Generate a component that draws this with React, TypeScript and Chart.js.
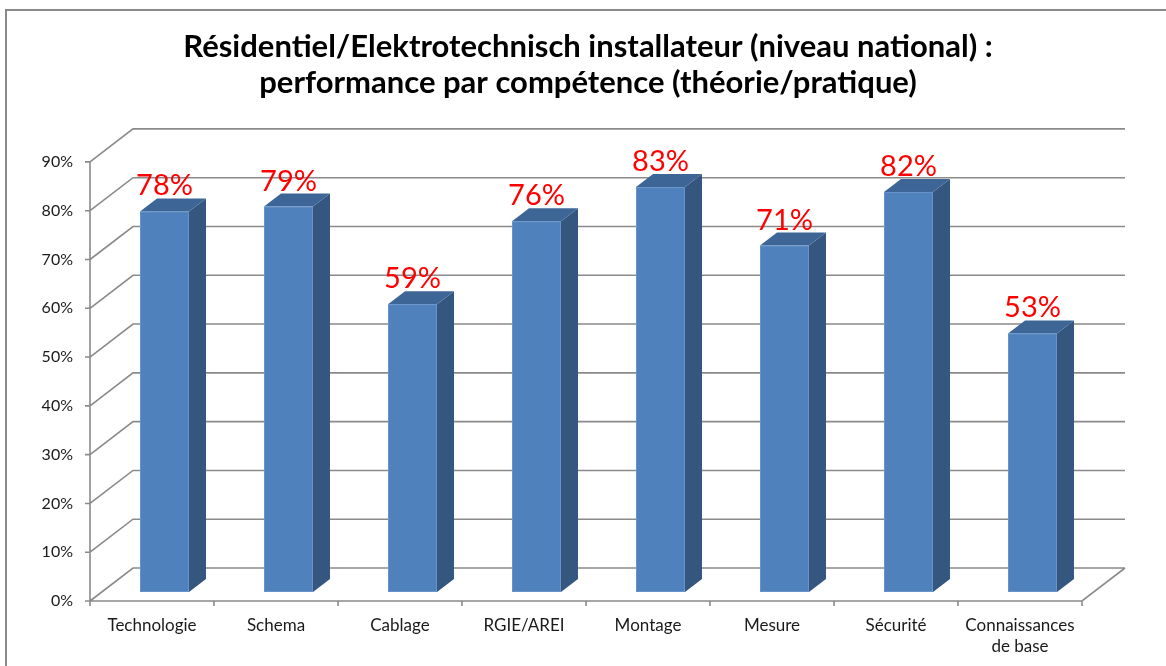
import React, { useEffect, useRef } from 'react';
import { Chart, registerables } from 'chart.js';

Chart.register(...registerables);

const categories: (string | string[])[] = [
  'Technologie',
  'Schema',
  'Cablage',
  'RGIE/AREI',
  'Montage',
  'Mesure',
  'Sécurité',
  ['Connaissances', 'de base'],
];
const values = [78, 79, 59, 76, 83, 71, 82, 53];
const yMax = 90;
const yStep = 10;
const titleLines = [
  'Résidentiel/Elektrotechnisch installateur (niveau national) :',
  'performance par compétence (théorie/pratique)',
];

const FONT = "Lato, 'Open Sans', sans-serif";
const GRID = '#8a8a8a';
const FRONT = '#4F81BD';
const SIDE = '#34567F';
const TOP = '#3D6697';
// 3D offsets (style)
const WALL_DX = 43, WALL_DY = -33;
const BAR_FX = 12.5, BAR_FY = -9;
const DEPTH_DX = 17, DEPTH_DY = -13;

const threeD = {
  id: 'threeD',
  beforeDraw(chart: any) {
    const ctx = chart.ctx;
    ctx.save();
    ctx.fillStyle = '#ffffff';
    ctx.fillRect(0, 0, chart.width, chart.height);
    ctx.strokeStyle = '#8a8a8a';
    ctx.lineWidth = 2;
    ctx.beginPath();
    ctx.moveTo(6, chart.height);
    ctx.lineTo(6, 10);
    ctx.lineTo(chart.width, 10);
    ctx.stroke();
    ctx.restore();
  },
  beforeDatasetsDraw(chart: any) {
    const ctx = chart.ctx;
    const ys = chart.scales.y;
    const xs = chart.scales.x;
    const { left, right, top, bottom } = chart.chartArea;
    ctx.save();
    ctx.strokeStyle = GRID;
    ctx.lineWidth = 1.6;
    ctx.beginPath();
    ys.ticks.forEach((t: any) => {
      const py = ys.getPixelForValue(t.value);
      ctx.moveTo(left, py);
      ctx.lineTo(left + WALL_DX, py + WALL_DY);
      ctx.lineTo(right + WALL_DX, py + WALL_DY);
      ctx.moveTo(left - 5, py);
      ctx.lineTo(left, py);
    });
    ctx.moveTo(left, top);
    ctx.lineTo(left, bottom);
    ctx.lineTo(right, bottom);
    ctx.lineTo(right + WALL_DX, bottom + WALL_DY);
    for (let i = 0; i <= categories.length; i++) {
      const px = xs.getPixelForValue(i - 0.5);
      ctx.moveTo(px, bottom);
      ctx.lineTo(px, bottom + 5);
    }
    ctx.stroke();
    ctx.restore();
  },
  afterDatasetsDraw(chart: any) {
    const ctx = chart.ctx;
    const meta = chart.getDatasetMeta(0);
    ctx.save();
    meta.data.forEach((el: any, i: number) => {
      const w = el.width;
      const fx = el.x + BAR_FX - w / 2;
      const ft = el.y + BAR_FY;
      const fb = el.base + BAR_FY;
      // side face
      ctx.fillStyle = SIDE;
      ctx.beginPath();
      ctx.moveTo(fx + w, ft);
      ctx.lineTo(fx + w + DEPTH_DX, ft + DEPTH_DY);
      ctx.lineTo(fx + w + DEPTH_DX, fb + DEPTH_DY);
      ctx.lineTo(fx + w, fb);
      ctx.closePath();
      ctx.fill();
      // top face
      ctx.fillStyle = TOP;
      ctx.beginPath();
      ctx.moveTo(fx, ft);
      ctx.lineTo(fx + DEPTH_DX, ft + DEPTH_DY);
      ctx.lineTo(fx + w + DEPTH_DX, ft + DEPTH_DY);
      ctx.lineTo(fx + w, ft);
      ctx.closePath();
      ctx.fill();
      // front face
      ctx.fillStyle = FRONT;
      ctx.fillRect(fx, ft, w, fb - ft);
      ctx.strokeStyle = 'rgba(120,160,210,0.6)';
      ctx.lineWidth = 1;
      ctx.strokeRect(fx + 0.5, ft + 0.5, w - 1, fb - ft - 1);
      // label
      ctx.fillStyle = '#FF0000';
      ctx.font = `29px ${FONT}`;
      ctx.textAlign = 'center';
      ctx.textBaseline = 'alphabetic';
      ctx.fillText(values[i] + '%', fx + w / 2, ft - 16);
    });
    ctx.restore();
  },
};

export default function App() {
  const ref = useRef<HTMLCanvasElement>(null);
  useEffect(() => {
    if (!ref.current) return;
    const chart = new Chart(ref.current, {
      type: 'bar',
      data: {
        labels: categories as any,
        datasets: [
          {
            data: values,
            backgroundColor: 'rgba(0,0,0,0)',
            borderWidth: 0,
            categoryPercentage: 1,
            barPercentage: 0.395,
          },
        ],
      },
      options: {
        animation: false,
        responsive: true,
        maintainAspectRatio: false,
        layout: { padding: { left: 10, right: 0, top: 0, bottom: 0 } },
        plugins: {
          legend: { display: false },
          tooltip: { enabled: false },
          title: {
            display: true,
            text: titleLines,
            color: '#000',
            font: { family: FONT, size: 31, weight: 'bold', lineHeight: 1.16 },
            padding: { top: 29, bottom: 61 },
          },
        },
        scales: {
          x: {
            grid: { display: false, drawTicks: false },
            border: { display: false },
            ticks: {
              color: '#1a1a1a',
              font: { family: FONT, size: 17, lineHeight: 1.25 },
              padding: 14,
              maxRotation: 0,
              autoSkip: false,
            },
            afterFit(scale: any) {
              scale.height = 65;
            },
          },
          y: {
            min: 0,
            max: yMax,
            grid: { display: false, drawTicks: false },
            border: { display: false },
            ticks: {
              stepSize: yStep,
              color: '#1a1a1a',
              font: { family: FONT, size: 16 },
              padding: 17,
              callback: (v: any) => v + '%',
            },
            afterFit(scale: any) {
              scale.width = 80;
            },
          },
          yRight: {
            position: 'right',
            display: true,
            grid: { display: false, drawTicks: false },
            border: { display: false },
            ticks: { display: false },
            afterFit(scale: any) {
              scale.width = 84;
            },
          },
        },
      },
      plugins: [threeD],
    });
    return () => chart.destroy();
  }, []);
  return (
    <div style={{ position: 'absolute', left: 0, top: 0, width: 1166, height: 666 }}>
      <canvas ref={ref} />
    </div>
  );
}
